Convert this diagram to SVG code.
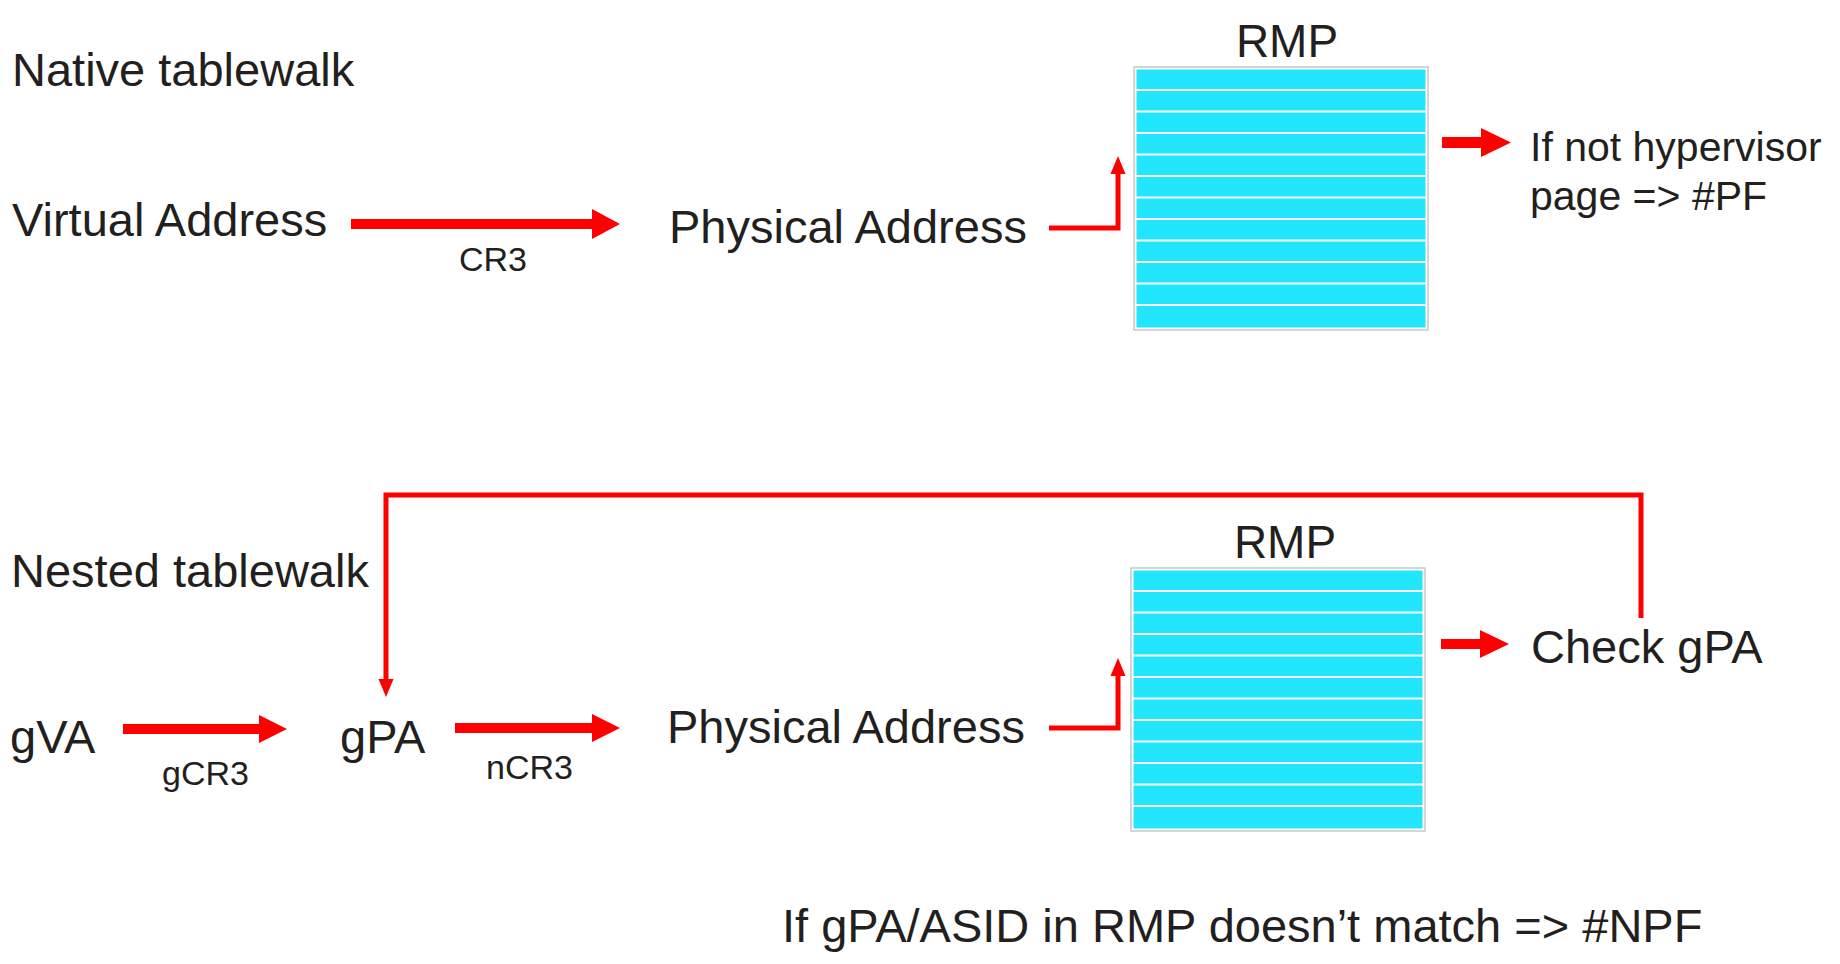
<svg xmlns="http://www.w3.org/2000/svg" xmlns:xlink="http://www.w3.org/1999/xlink" width="1840" height="964" viewBox="0 0 1840 964">
<style>
text{font-family:"Liberation Sans",Arial,sans-serif;fill:#231F20}
.t46{font-size:47px}
.t40{font-size:41px}
.t34{font-size:34px}
.t45{font-size:46px}
.thick{fill:#FF0000;stroke:none}
.line{fill:none;stroke:#FF0000;stroke-width:5;stroke-linejoin:miter}
.stripe{fill:#22E6FE}
</style>
<defs>
<marker id="head" markerUnits="userSpaceOnUse" markerWidth="18" markerHeight="18" viewBox="0 0 18 18" refX="2" refY="9" orient="auto">
<path d="M0,1.5 L18,9 L0,16.5 Z" fill="#FF0000"/>
</marker>
<g id="rmpbox">
<rect x="0" y="0" width="294" height="263" fill="#FFFFFF" stroke="#C8C8C8" stroke-width="1.5"/>
<rect class="stripe" x="2.5" y="2.5" width="289" height="19.5"/>
<rect class="stripe" x="2.5" y="24" width="289" height="19.5"/>
<rect class="stripe" x="2.5" y="45.5" width="289" height="19.5"/>
<rect class="stripe" x="2.5" y="67" width="289" height="19.5"/>
<rect class="stripe" x="2.5" y="88.5" width="289" height="19.5"/>
<rect class="stripe" x="2.5" y="110" width="289" height="19.5"/>
<rect class="stripe" x="2.5" y="131.5" width="289" height="19.5"/>
<rect class="stripe" x="2.5" y="153" width="289" height="19.5"/>
<rect class="stripe" x="2.5" y="174.5" width="289" height="19.5"/>
<rect class="stripe" x="2.5" y="196" width="289" height="19.5"/>
<rect class="stripe" x="2.5" y="217.5" width="289" height="19.5"/>
<rect class="stripe" x="2.5" y="239" width="289" height="21.5"/>
</g>
</defs>

<g id="title-native"><text class="t46" x="12" y="86">Native tablewalk</text></g>
<g id="virtual-address"><text class="t46" x="12" y="236">Virtual Address</text></g>
<g id="physical-address-1"><text class="t46" x="669" y="243">Physical Address</text></g>
<g id="rmp-1">
<text class="t45" x="1287" y="57" text-anchor="middle">RMP</text>
<use xlink:href="#rmpbox" x="1134" y="67"/>
</g>
<g id="hypervisor-check">
<text class="t40" x="1530" y="161">If not hypervisor</text>
<text class="t40" x="1530" y="210">page =&gt; #PF</text>
</g>

<g id="title-nested"><text class="t46" x="11" y="587">Nested tablewalk</text></g>
<g id="gva"><text class="t46" x="10" y="753">gVA</text></g>
<g id="gpa"><text class="t46" x="340" y="753">gPA</text></g>
<g id="physical-address-2"><text class="t46" x="667" y="743">Physical Address</text></g>
<g id="rmp-2">
<text class="t45" x="1285" y="558" text-anchor="middle">RMP</text>
<use xlink:href="#rmpbox" x="1131" y="568"/>
</g>
<g id="check-gpa"><text class="t46" x="1531" y="663">Check gPA</text></g>
<g id="npf-note"><text class="t46" x="782" y="942">If gPA/ASID in RMP doesn’t match =&gt; #NPF</text></g>

<g id="connectors">
<path class="thick" d="M351,219 L592,219 L592,209 L620,224 L592,239 L592,229 L351,229 Z"/>
<text class="t34" x="459" y="271">CR3</text>
<polyline class="line" points="1049,228 1118,228 1118,172" marker-end="url(#head)"/>
<path class="thick" d="M1442,137 L1481,137 L1481,128 L1511,142.5 L1481,157 L1481,148 L1442,148 Z"/>

<path class="thick" d="M123,724 L259,724 L259,715 L287,729 L259,743 L259,734 L123,734 Z"/>
<text class="t34" x="162" y="785">gCR3</text>
<path class="thick" d="M455,723 L592,723 L592,714 L620,728 L592,742 L592,733 L455,733 Z"/>
<text class="t34" x="486" y="779">nCR3</text>
<polyline class="line" points="1049,728 1118,728 1118,674" marker-end="url(#head)"/>
<path class="thick" d="M1441,639 L1480,639 L1480,630 L1509,644 L1480,658 L1480,649 L1441,649 Z"/>
<polyline class="line" points="1641,618 1641,495 386,495 386,681" marker-end="url(#head)"/>
</g>
</svg>
